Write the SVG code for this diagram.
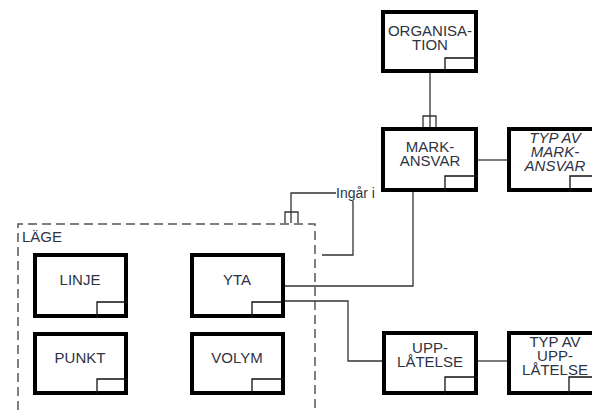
<svg xmlns="http://www.w3.org/2000/svg" width="592" height="410" viewBox="0 0 592 410">
<style>
.box{fill:#fff;stroke:#000;stroke-width:4}
.sub{fill:none;stroke:#111;stroke-width:1.3}
.t{font-family:"Liberation Sans",Arial,sans-serif;font-size:15px;fill:#2e3344;text-anchor:middle}
.i{font-style:italic}
.c{fill:none;stroke:#333;stroke-width:1.3}
.dash{fill:none;stroke:#555;stroke-width:1.5;stroke-dasharray:9 5}
</style>
<rect width="592" height="410" fill="#fff"/>
<g id="lage">
<path class="dash" d="M18 410 V224 H315 V410"/>
<text x="22" y="242" class="t" style="text-anchor:start">LÄGE</text>
</g>
<g id="connectors">
<path class="c" d="M430 73 V127"/>
<path class="c" d="M423 127 V116 H436 V127"/>
<path class="c" d="M478 160 H507"/>
<path class="c" d="M413 192 V286 H285"/>
<path class="c" d="M285 301 H348 V361 H382"/>
<path class="c" d="M478 361 H507"/>
<path class="c" d="M291 223 V193 H336"/>
<path class="c" d="M285 223 V212 H298 V223"/>
<path class="c" d="M353 201 V255 H322"/>
<text x="336" y="198" class="t" style="text-anchor:start;font-size:14px">Ingår i</text>
</g>
<g id="organisation">
<rect class="box" x="383" y="12" width="93" height="59"/>
<path class="sub" d="M445 73 V58 H478"/>
<text class="t" x="430" y="36">ORGANISA-</text>
<text class="t" x="430" y="50">TION</text>
</g>
<g id="markansvar">
<rect class="box" x="383" y="129" width="93" height="61"/>
<path class="sub" d="M445 192 V176 H478"/>
<text class="t" x="430" y="152">MARK-</text>
<text class="t" x="430" y="166">ANSVAR</text>
</g>
<g id="typ-markansvar">
<rect class="box" x="509" y="129" width="93" height="61"/>
<path class="sub" d="M570 192 V176 H603"/>
<text class="t i" x="555" y="143">TYP AV</text>
<text class="t i" x="555" y="157">MARK-</text>
<text class="t i" x="555" y="171">ANSVAR</text>
</g>
<g id="linje">
<rect class="box" x="35" y="255" width="91" height="61"/>
<path class="sub" d="M97 318 V302 H128"/>
<text class="t" x="80" y="285">LINJE</text>
</g>
<g id="yta">
<rect class="box" x="192" y="255" width="91" height="61"/>
<path class="sub" d="M252 318 V302 H285"/>
<text class="t" x="237" y="285">YTA</text>
</g>
<g id="punkt">
<rect class="box" x="35" y="334" width="91" height="59"/>
<path class="sub" d="M97 395 V379 H128"/>
<text class="t" x="80" y="363">PUNKT</text>
</g>
<g id="volym">
<rect class="box" x="192" y="334" width="91" height="59"/>
<path class="sub" d="M252 395 V379 H285"/>
<text class="t" x="237" y="363">VOLYM</text>
</g>
<g id="upplatelse">
<rect class="box" x="384" y="333" width="92" height="60"/>
<path class="sub" d="M445 395 V377 H478"/>
<text class="t" x="430" y="353">UPP-</text>
<text class="t" x="430" y="367">LÅTELSE</text>
</g>
<g id="typ-upplatelse">
<rect class="box" x="509" y="333" width="93" height="60"/>
<path class="sub" d="M569 395 V377 H603"/>
<text class="t" x="555" y="347">TYP AV</text>
<text class="t" x="555" y="361">UPP-</text>
<text class="t" x="555" y="375">LÅTELSE</text>
</g>
</svg>
